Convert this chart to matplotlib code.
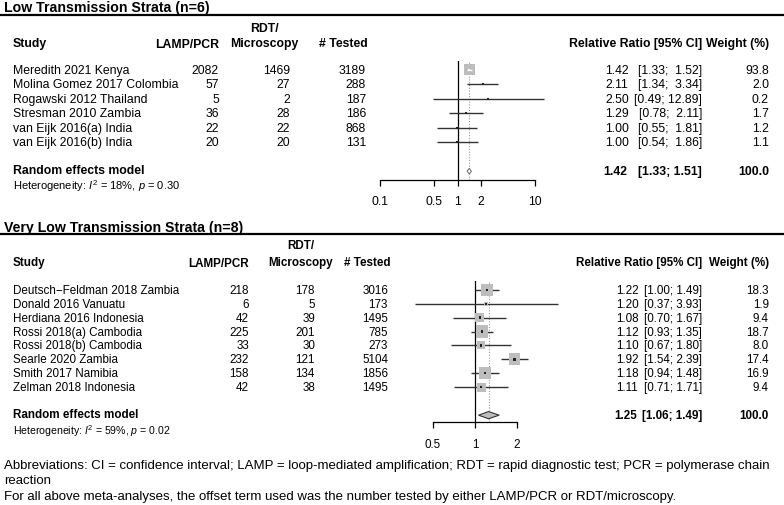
import numpy as np
import matplotlib
matplotlib.use('Agg')
import matplotlib.pyplot as plt
from matplotlib.patches import Polygon
from matplotlib.ticker import NullLocator

W, H = 784, 506
DPI = 100
FONT = 'Liberation Sans'

plt.rcParams['font.family'] = [FONT, 'DejaVu Sans']
plt.rcParams['mathtext.fontset'] = 'custom'
plt.rcParams['mathtext.rm'] = FONT
plt.rcParams['mathtext.it'] = FONT + ':italic'
plt.rcParams['mathtext.bf'] = FONT + ':bold'

# low transmission strata
low_title = 'Low Transmission Strata (n=6)'
low_studies = ['Meredith 2021 Kenya', 'Molina Gomez 2017 Colombia', 'Rogawski 2012 Thailand',
               'Stresman 2010 Zambia', 'van Eijk 2016(a) India', 'van Eijk 2016(b) India']
low_lamp = [2082, 57, 5, 36, 22, 20]
low_rdt = [1469, 27, 2, 28, 22, 20]
low_tested = [3189, 288, 187, 186, 868, 131]
low_rr = [1.42, 2.11, 2.50, 1.29, 1.00, 1.00]
low_lo = [1.33, 1.34, 0.49, 0.78, 0.55, 0.54]
low_hi = [1.52, 3.34, 12.89, 2.11, 1.81, 1.86]
low_wt = [93.8, 2.0, 0.2, 1.7, 1.2, 1.1]
low_summary = (1.42, 1.33, 1.51)
low_het = (18, '0.30')
low_ticks = [0.1, 0.5, 1, 2, 10]
low_ticklabels = ['0.1', '0.5', '1', '2', '10']

# very low transmission strata
vlow_title = 'Very Low Transmission Strata (n=8)'
vlow_studies = ['Deutsch\u2212Feldman 2018 Zambia', 'Donald 2016 Vanuatu', 'Herdiana 2016 Indonesia',
                'Rossi 2018(a) Cambodia', 'Rossi 2018(b) Cambodia', 'Searle 2020 Zambia',
                'Smith 2017 Namibia', 'Zelman 2018 Indonesia']
vlow_lamp = [218, 6, 42, 225, 33, 232, 158, 42]
vlow_rdt = [178, 5, 39, 201, 30, 121, 134, 38]
vlow_tested = [3016, 173, 1495, 785, 273, 5104, 1856, 1495]
vlow_rr = [1.22, 1.20, 1.08, 1.12, 1.10, 1.92, 1.18, 1.11]
vlow_lo = [1.00, 0.37, 0.70, 0.93, 0.67, 1.54, 0.94, 0.71]
vlow_hi = [1.49, 3.93, 1.67, 1.35, 1.80, 2.39, 1.48, 1.71]
vlow_wt = [18.3, 1.9, 9.4, 18.7, 8.0, 17.4, 16.9, 9.4]
vlow_summary = (1.25, 1.06, 1.49)
vlow_het = (59, '0.02')
vlow_ticks = [0.5, 1, 2]
vlow_ticklabels = ['0.5', '1', '2']

footnotes = ['Abbreviations: CI = confidence interval; LAMP = loop-mediated amplification; '
             'RDT = rapid diagnostic test; PCR = polymerase chain',
             'reaction',
             'For all above meta-analyses, the offset term used was the number tested by '
             'either LAMP/PCR or RDT/microscopy.']

# pixel layout of each panel
LOW_LAYOUT = dict(title_y=8, line_y=16, rdt_y=29, head_y=43.5, study_x=13, lamp_x=219,
                  rdt_cx=264, rdt_x=290, tested_hx=368, tested_x=366, est_x=605, ci_x=702,
                  wt_x=769, row0=70.7, step=14.5, x0=380, x1=535, ytop=62.3, ybot=180.7,
                  fs=8.8, het_y=186, sq_max=11.5, dia_h=2.8, dia_fill='white',
                  dia_edge='#777777')
VLOW_LAYOUT = dict(title_y=228, line_y=235, rdt_y=246, head_y=262.7, study_x=13, lamp_x=249,
                   rdt_cx=301, rdt_x=315, tested_hx=391, tested_x=388, est_x=616, ci_x=702,
                   wt_x=769, row0=290.7, step=13.94, x0=433, x1=517, ytop=281.7, ybot=423,
                   fs=8.4, het_y=431, sq_max=12.3, dia_h=3.6, dia_fill='#bdbdbd',
                   dia_edge='#333333')


def draw_panel(fig, tax, title, studies, lamp, rdt, tested, rr, lo, hi, wt, summary, het,
               ticks, ticklabels, lay):
    fs = lay['fs']
    n = len(studies)
    rows = lay['row0'] + lay['step'] * np.arange(n)
    summ_y = lay['row0'] + lay['step'] * (n + 1)

    tax.text(4, lay['title_y'], title, fontsize=10.2, fontweight='bold', va='center')
    tax.plot([0, 784], [lay['line_y']] * 2, color='black', lw=1.6, solid_capstyle='butt')

    # table header
    tax.text(lay['study_x'], lay['head_y'], 'Study', fontsize=fs, fontweight='bold', va='center')
    tax.text(lay['lamp_x'], lay['head_y'] + 1, 'LAMP/PCR', fontsize=fs, fontweight='bold',
             va='center', ha='right')
    tax.text(lay['rdt_cx'], lay['rdt_y'], 'RDT/', fontsize=fs, fontweight='bold',
             va='center', ha='center')
    tax.text(lay['rdt_cx'], lay['head_y'], 'Microscopy', fontsize=fs, fontweight='bold',
             va='center', ha='center')
    tax.text(lay['tested_hx'], lay['head_y'], '# Tested', fontsize=fs, fontweight='bold',
             va='center', ha='right')
    tax.text(lay['ci_x'], lay['head_y'], 'Relative Ratio [95% CI]', fontsize=fs,
             fontweight='bold', va='center', ha='right')
    tax.text(lay['wt_x'], lay['head_y'], 'Weight (%)', fontsize=fs, fontweight='bold',
             va='center', ha='right')

    hi_width = max(len(f'{h:.2f}') for h in hi)
    for i, y in enumerate(rows):
        tax.text(lay['study_x'], y, studies[i], fontsize=fs, va='center')
        tax.text(lay['lamp_x'], y, str(lamp[i]), fontsize=fs, va='center', ha='right')
        tax.text(lay['rdt_x'], y, str(rdt[i]), fontsize=fs, va='center', ha='right')
        tax.text(lay['tested_x'], y, str(tested[i]), fontsize=fs, va='center', ha='right')
        tax.text(lay['est_x'], y, f'{rr[i]:.2f}', fontsize=fs, va='center')
        ci = f'[{lo[i]:.2f}; {hi[i]:>{hi_width}.2f}]'
        tax.text(lay['ci_x'], y, ci, fontsize=fs, va='center', ha='right')
        tax.text(lay['wt_x'], y, f'{wt[i]:.1f}', fontsize=fs, va='center', ha='right')

    est, s_lo, s_hi = summary
    tax.text(lay['study_x'], summ_y - 1, 'Random effects model', fontsize=fs,
             fontweight='bold', va='center')
    tax.text(lay['est_x'] - 2, summ_y, f'{est:.2f}', fontsize=fs, fontweight='bold', va='center')
    tax.text(lay['ci_x'], summ_y, f'[{s_lo:.2f}; {s_hi:.2f}]', fontsize=fs, fontweight='bold',
             va='center', ha='right')
    tax.text(lay['wt_x'], summ_y, '100.0', fontsize=fs, fontweight='bold', va='center',
             ha='right')
    tax.text(lay['study_x'], lay['het_y'],
             f'Heterogeneity: $I^2$ = {het[0]}%, $p$ = {het[1]}', fontsize=fs - 0.8,
             va='center')

    # forest plot
    ax = fig.add_axes([lay['x0'] / W, 1 - lay['ybot'] / H,
                       (lay['x1'] - lay['x0']) / W, (lay['ybot'] - lay['ytop']) / H])
    ax.patch.set_alpha(0)
    ax.set_xscale('log')
    ax.set_xlim(ticks[0], ticks[-1])
    ax.set_ylim((lay['ybot'] - lay['row0']) / lay['step'], (lay['ytop'] - lay['row0']) / lay['step'])
    for side in ['top', 'left', 'right']:
        ax.spines[side].set_visible(False)
    ax.spines['bottom'].set_linewidth(0.9)
    ax.set_xticks(ticks)
    ax.set_xticklabels(ticklabels)
    ax.xaxis.set_minor_locator(NullLocator())
    ax.set_yticks([])
    ax.tick_params(axis='x', direction='out', length=4.3, width=0.9, pad=7, labelsize=fs)

    ax.axvline(1, color='black', lw=0.9, zorder=1)
    ax.axvline(est, color='#999999', ls=(0, (1, 1.5)), lw=0.8, zorder=1)

    idx = np.arange(n)
    px_per_dec = (lay['x1'] - lay['x0']) / np.log10(ticks[-1] / ticks[0])
    sides = lay['sq_max'] * np.sqrt(np.array(wt) / max(wt))
    for i in idx:
        ci_px = np.log10(hi[i] / lo[i]) * px_per_dec
        inside = ci_px < sides[i]
        ax.hlines(i, lo[i], hi[i], color='white' if inside else '#333333', lw=1.0,
                  zorder=4 if inside else 2, clip_on=False)
        ax.scatter([rr[i]], [i], s=(sides[i] * 72 / DPI) ** 2, marker='s', color='#bdbdbd',
                   edgecolors='none', zorder=3, clip_on=False)
        ax.scatter([rr[i]], [i], s=(2.2 * 72 / DPI) ** 2, marker='s',
                   color='white' if inside else '#222222', edgecolors='none', zorder=5,
                   clip_on=False)

    h = lay['dia_h'] / lay['step']
    ax.add_patch(Polygon([(s_lo, n + 1), (est, n + 1 - h), (s_hi, n + 1), (est, n + 1 + h)],
                         closed=True, facecolor=lay['dia_fill'], edgecolor=lay['dia_edge'],
                         lw=0.8, zorder=3))
    return ax


def make_figure():
    fig = plt.figure(figsize=(W / DPI, H / DPI), dpi=DPI)
    tax = fig.add_axes([0, 0, 1, 1])
    tax.set_xlim(0, W)
    tax.set_ylim(H, 0)
    tax.axis('off')

    draw_panel(fig, tax, low_title, low_studies, low_lamp, low_rdt, low_tested, low_rr,
               low_lo, low_hi, low_wt, low_summary, low_het, low_ticks, low_ticklabels,
               LOW_LAYOUT)
    draw_panel(fig, tax, vlow_title, vlow_studies, vlow_lamp, vlow_rdt, vlow_tested, vlow_rr,
               vlow_lo, vlow_hi, vlow_wt, vlow_summary, vlow_het, vlow_ticks, vlow_ticklabels,
               VLOW_LAYOUT)

    for y, line in zip([466, 481.5, 497], footnotes):
        tax.text(4, y, line, fontsize=9.5, va='center')

    fig.savefig('out.png', dpi=DPI)


if __name__ == "__main__":
    make_figure()
